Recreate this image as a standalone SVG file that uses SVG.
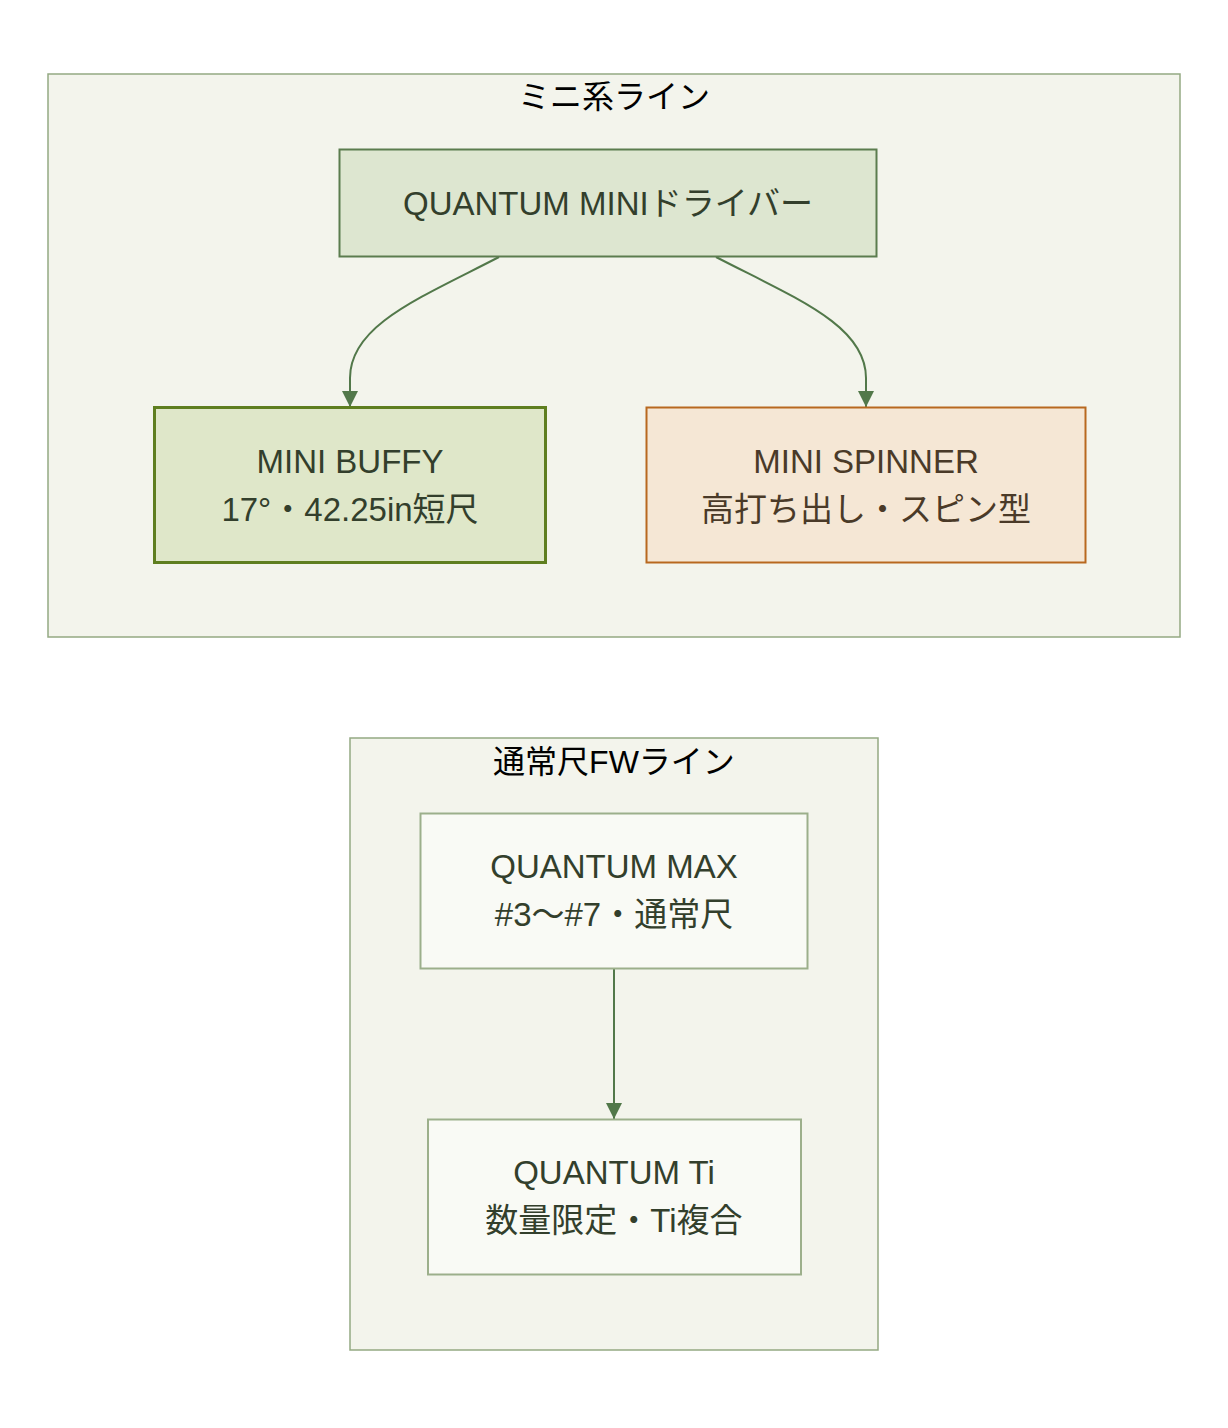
<svg xmlns="http://www.w3.org/2000/svg" width="1228" height="1428" viewBox="0 0 1228 1428">
<style>
text{font-family:"Liberation Sans","Noto Sans CJK JP",sans-serif;font-size:32px;text-anchor:middle}
.cl{fill:#f3f4ec;stroke:#94a982;stroke-width:1.5}
.ct{fill:#000}
.nt{fill:#333f2c;font-size:33px}
.st{fill:#4a3a28;font-size:33px}
.edge{fill:none;stroke:#52784a;stroke-width:2}
</style>
<defs>
<marker id="arr" viewBox="0 0 16 16" refX="16" refY="8" markerWidth="16" markerHeight="16" markerUnits="userSpaceOnUse" orient="auto">
<path d="M0,0 L16,8 L0,16 z" fill="#52784a"/>
</marker>
</defs>
<rect width="1228" height="1428" fill="#ffffff"/>
<g id="cluster-mini">
<rect class="cl" x="48" y="74" width="1132" height="563"/>
<text class="ct" x="614" y="108">ミニ系ライン</text>
</g>
<g id="cluster-fw">
<rect class="cl" x="350" y="738" width="528" height="612"/>
<text class="ct" x="614" y="773">通常尺FWライン</text>
</g>
<g id="connectors">
<path class="edge" d="M499,257 C420,298 350,325 350,378 L350,407" marker-end="url(#arr)"/>
<path class="edge" d="M716,257 C795,298 866,325 866,378 L866,407" marker-end="url(#arr)"/>
<path class="edge" d="M614,969 L614,1119" marker-end="url(#arr)"/>
</g>
<g id="node-quantum-mini">
<rect x="339.5" y="149.5" width="537" height="107" fill="#dde6d0" stroke="#5b7c4e" stroke-width="2"/>
<text class="nt" x="608" y="215">QUANTUM MINIドライバー</text>
</g>
<g id="node-mini-buffy">
<rect x="154.5" y="407.5" width="391" height="155" fill="#dfe7c9" stroke="#5e7e1f" stroke-width="3"/>
<text class="nt" x="350" y="473">MINI BUFFY</text>
<text class="nt" x="350" y="521">17°・42.25in短尺</text>
</g>
<g id="node-mini-spinner">
<rect x="646.5" y="407.5" width="439" height="155" fill="#f5e7d5" stroke="#b8681f" stroke-width="2"/>
<text class="st" x="866" y="473">MINI SPINNER</text>
<text class="st" x="866" y="521">高打ち出し・スピン型</text>
</g>
<g id="node-quantum-max">
<rect x="420.5" y="813.5" width="387" height="155" fill="#f9faf5" stroke="#9caf8b" stroke-width="2"/>
<text class="nt" x="614" y="878">QUANTUM MAX</text>
<text class="nt" x="614" y="926">#3〜#7・通常尺</text>
</g>
<g id="node-quantum-ti">
<rect x="428" y="1119.5" width="373" height="155" fill="#f9faf5" stroke="#9caf8b" stroke-width="2"/>
<text class="nt" x="614" y="1184">QUANTUM Ti</text>
<text class="nt" x="614" y="1232">数量限定・Ti複合</text>
</g>
</svg>
